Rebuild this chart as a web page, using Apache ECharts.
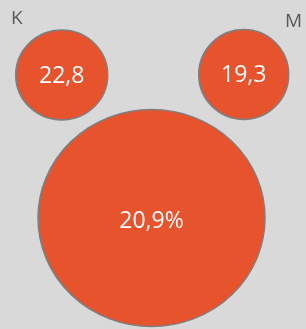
<!DOCTYPE html>
<html>
<head>
<meta charset="utf-8">
<script src="https://cdn.jsdelivr.net/npm/echarts@6/dist/echarts.min.js"></script>
<style>
html,body{margin:0;padding:0;background:#d9d9d9;}
#c{width:306px;height:329px;}
</style>
</head>
<body>
<div id="c"></div>
<script>
// Bubble data
var names = ["K", "M", "Total"];
var values = [22.8, 19.3, 20.9];
var valueLabels = ["22,8", "19,3", "20,9%"];
var xs = [61.7, 243.7, 151.5];
var ys = [75, 74.5, 218];
var cornerLabels = ["K", "M"];

// styles
var sizes = [[92, 90], [90, 90], [227, 217]];
var labelOffsets = [[0, 1], [0, 1], [0, 3]];

var chart = echarts.init(document.getElementById('c'), null, {renderer: 'canvas'});
var data = values.map(function (v, i) {
  return {
    name: names[i],
    value: [xs[i], ys[i], v],
    symbolSize: sizes[i],
    label: {offset: labelOffsets[i]}
  };
});
chart.setOption({
  backgroundColor: '#d9d9d9',
  animation: false,
  grid: {left: 0, right: 0, top: 0, bottom: 0},
  xAxis: {type: 'value', min: 0, max: 306, show: false},
  yAxis: {type: 'value', min: 0, max: 329, inverse: true, show: false},
  graphic: [
    {type: 'text', left: 11, top: 9, style: {text: cornerLabels[0], fontSize: 19, fontFamily: 'Open Sans', fill: '#595959'}},
    {type: 'text', left: 285, top: 12, style: {text: cornerLabels[1], fontSize: 19, fontFamily: 'Open Sans', fill: '#595959'}}
  ],
  series: [{
    type: 'scatter',
    symbol: 'circle',
    data: data,
    itemStyle: {color: '#e6532d', borderColor: '#7f7f7f', borderWidth: 1.5, opacity: 1},
    label: {
      show: true,
      position: 'inside',
      color: '#ffffff',
      fontFamily: 'Open Sans',
      fontSize: 23,
      formatter: function (p) { return valueLabels[p.dataIndex]; }
    },
    emphasis: {disabled: true}
  }]
});
</script>
</body>
</html>
